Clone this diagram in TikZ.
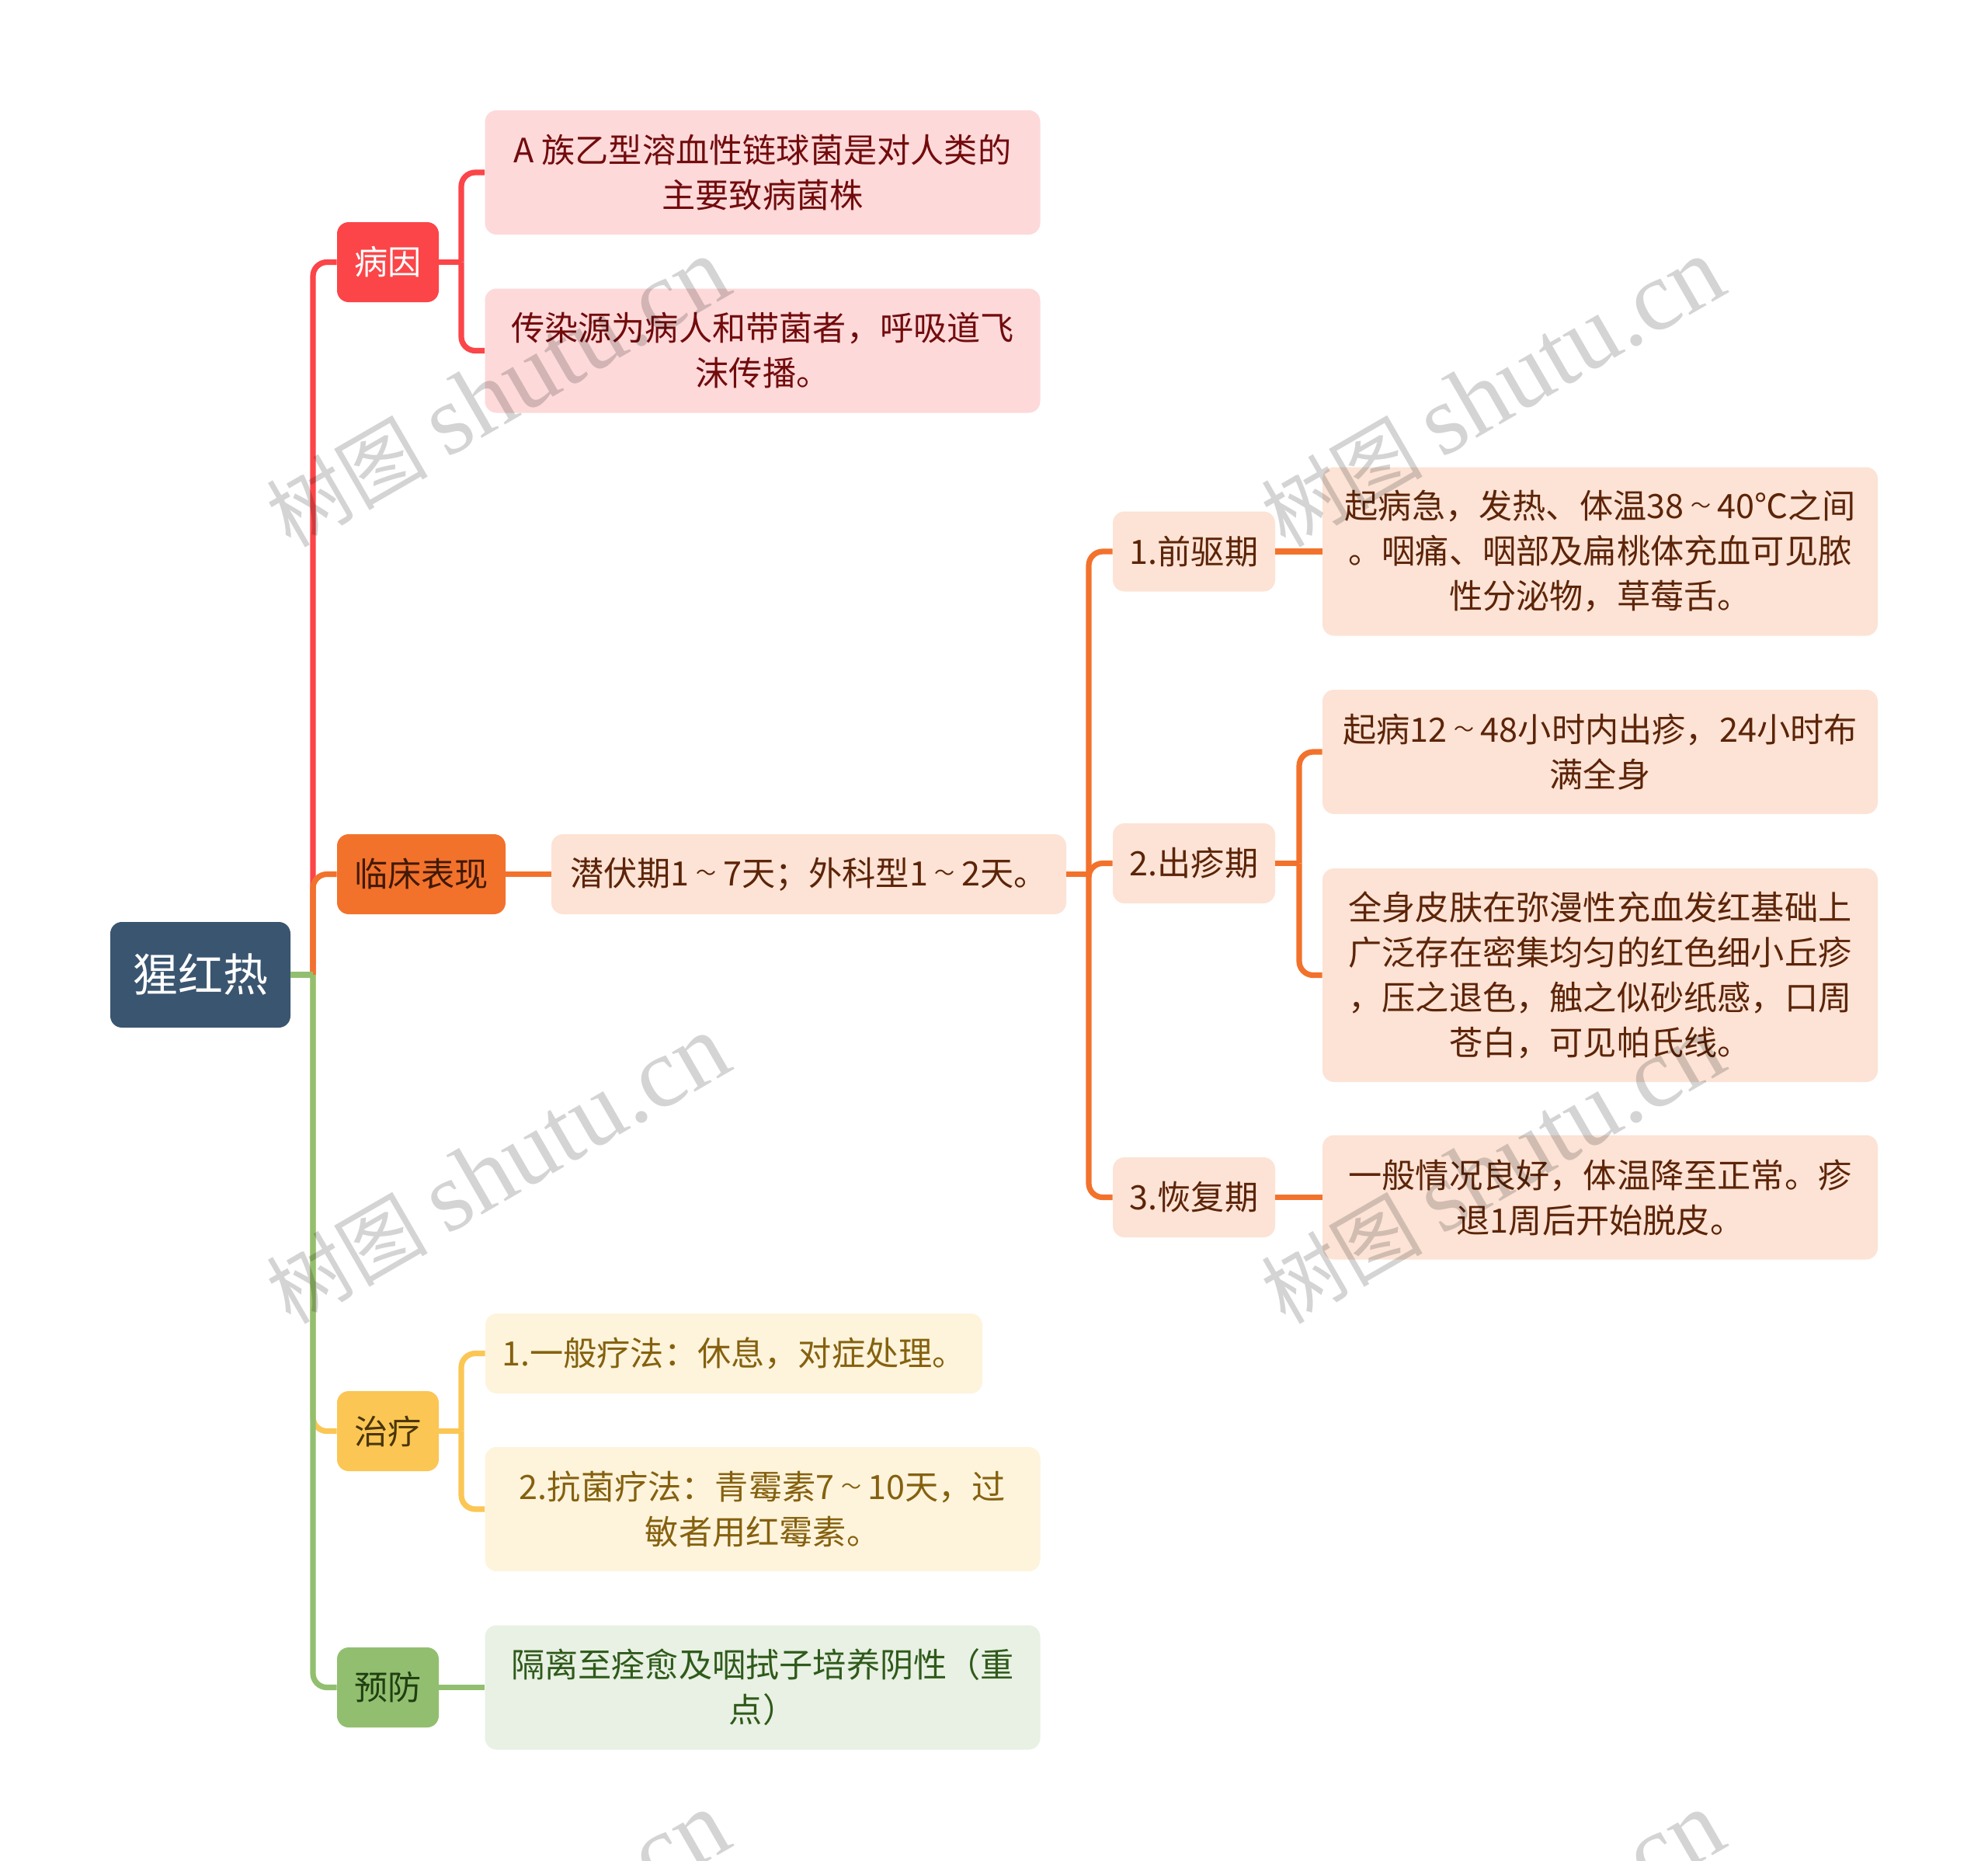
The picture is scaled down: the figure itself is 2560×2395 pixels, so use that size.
\documentclass[tikz,border=0pt]{standalone}
\usepackage{fontspec}
\setmainfont{Noto Sans CJK SC}
\newfontfamily\markfont{Liberation Serif}
\newcommand\tld{\makebox[1em]{\raisebox{3.5pt}{\fontsize{13}{29}\selectfont ～}}}
\definecolor{rootblue}{HTML}{3A5570}
\definecolor{redmain}{HTML}{FB4548}
\definecolor{redpale}{HTML}{FDD9DA}
\definecolor{redtext}{HTML}{720B0C}
\definecolor{orangemain}{HTML}{F2722C}
\definecolor{orangepale}{HTML}{FCE3D5}
\definecolor{orangetext}{HTML}{5C2408}
\definecolor{yellowmain}{HTML}{FBC654}
\definecolor{yellowpale}{HTML}{FEF4DC}
\definecolor{yellowtext}{HTML}{85610F}
\definecolor{greenmain}{HTML}{92BF6F}
\definecolor{greenpale}{HTML}{E8F1E3}
\definecolor{greentext}{HTML}{2F5A1B}
\tikzset{
  box/.style={rounded corners=7.5pt,inner sep=0pt,align=center,
    font=\fontsize{21.6}{29}\selectfont},
  short/.style={minimum width=65.5pt,minimum height=51.5pt},
  wide/.style={minimum width=357.5pt,minimum height=80pt},
  link/.style={line width=3.6pt,rounded corners=9pt},
  watermark/.style={rotate=30,text=black,opacity=.17,inner sep=0pt,
    font=\fontsize{52}{60}\selectfont}
}
\begin{document}
\begin{tikzpicture}[x=.5pt,y=-.5pt]
\path [fill=white,use as bounding box] (0,0) rectangle (2560,2395);

  \node [box,fill=rootblue,text=white,minimum width=116pt,minimum height=68pt,
    font=\fontsize{29}{34}\selectfont] at (258,1255) (root) {猩红热};

  \begin{scope}[every node/.append style={box}]
    \node [short,fill=redmain,text=white] at (499.5,337.5) (cause) {病因};
    \node [wide,fill=redpale,text=redtext] at (982,222) (cause1)
      {A 族乙型溶血性链球菌是对人类的\\主要致病菌株};
    \node [wide,fill=redpale,text=redtext] at (982,451.5) (cause2)
      {传染源为病人和带菌者，呼吸道飞\\沫传播。};
  \end{scope}

  \begin{scope}[every node/.append style={box,fill=orangepale,text=orangetext}]
    \node [fill=orangemain,text=orangetext!70!black,minimum width=108.5pt,minimum height=51.5pt]
      at (542.5,1125.5) (clinic) {临床表现};
    \node [minimum width=331.5pt,minimum height=51.5pt] at (1041.5,1125.5) (incub)
      {潜伏期1\tld 7天；外科型1\tld 2天。};
    \node [minimum width=104.5pt,minimum height=51.5pt] at (1537.5,710) (prodrome) {1.前驱期};
    \node [minimum width=104.5pt,minimum height=51.5pt] at (1537.5,1111.5) (rash) {2.出疹期};
    \node [minimum width=104.5pt,minimum height=51.5pt] at (1537.5,1541.5) (recovery) {3.恢复期};
    \node [wide,minimum height=108.5pt] at (2060.5,710) (prodrome1)
      {起病急，发热、体温38\tld 40℃之间\\。咽痛、咽部及扁桃体充血可见脓\\性分泌物，草莓舌。};
    \node [wide] at (2060.5,968) (rash1)
      {起病12\tld 48小时内出疹，24小时布\\满全身};
    \node [wide,minimum height=137.5pt] at (2060.5,1255.5) (rash2)
      {全身皮肤在弥漫性充血发红基础上\\广泛存在密集均匀的红色细小丘疹\\，压之退色，触之似砂纸感，口周\\苍白，可见帕氏线。};
    \node [wide] at (2060.5,1541.5) (recovery1)
      {一般情况良好，体温降至正常。疹\\退1周后开始脱皮。};
  \end{scope}

  \begin{scope}[every node/.append style={box,fill=yellowpale,text=yellowtext}]
    \node [short,fill=yellowmain,text=yellowtext!55!black] at (499.5,1842.5) (treat) {治疗};
    \node [minimum width=320pt,minimum height=51.5pt] at (945,1742.5) (treat1)
      {1.一般疗法：休息，对症处理。};
    \node [wide] at (982,1943) (treat2)
      {2.抗菌疗法：青霉素7\tld 10天，过\\敏者用红霉素。};
  \end{scope}

  \node [box,short,fill=greenmain,text=greentext!70!black] at (499.5,2172.5) (prevent) {预防};
  \node [box,wide,fill=greenpale,text=greentext] at (982,2172.5) (prevent1)
    {隔离至痊愈及咽拭子培养阴性（重\\点）};

  \coordinate (trunk) at (403,1255);
  \coordinate (causebus) at (594,337.5);
  \coordinate (incubbus) at (1402,1125.5);
  \coordinate (rashbus) at (1673,1111.5);
  \coordinate (treatbus) at (594,1842.5);

  \draw [link,redmain] (trunk) |- (cause.west);
  \draw [link,yellowmain] (trunk) |- (treat.west);
  \draw [link,orangemain] (trunk) |- (clinic.west);
  \draw [link,greenmain] (trunk) |- (prevent.west);
  \draw [link,greenmain] (root.east) -- (trunk);

  \begin{scope}[every path/.style={draw,link,redmain}]
    \path (cause.east) -- (causebus);
    \path (causebus) |- (cause1.west);
    \path (causebus) |- (cause2.west);
  \end{scope}
  \begin{scope}[every path/.style={draw,link,orangemain}]
    \path (clinic.east) -- (incub.west);
    \path (incub.east) -- (incubbus);
    \path (incubbus) |- (prodrome.west);
    \path (incubbus) |- (rash.west);
    \path (incubbus) |- (recovery.west);
    \path (prodrome.east) -- (prodrome1.west);
    \path (rash.east) -- (rashbus);
    \path (rashbus) |- (rash1.west);
    \path (rashbus) |- (rash2.west);
    \path (recovery.east) -- (recovery1.west);
  \end{scope}
  \begin{scope}[every path/.style={draw,link,yellowmain}]
    \path (treat.east) -- (treatbus);
    \path (treatbus) |- (treat1.west);
    \path (treatbus) |- (treat2.west);
  \end{scope}
  \draw [link,greenmain] (prevent.east) -- (prevent1.west);

  \begin{scope}
    \clip (0,0) rectangle (2560,2395);
    \foreach \wx/\wy/\wname in {641/506/wma,1922/506/wmb,641/1506/wmc,1922/1506/wmd,641/2506/wme,1922/2506/wmf}
      \node [watermark] at (\wx,\wy) (\wname) {树图 {\markfont\fontsize{64}{60}\selectfont shutu.cn}};
  \end{scope}
\end{tikzpicture}
\end{document}
